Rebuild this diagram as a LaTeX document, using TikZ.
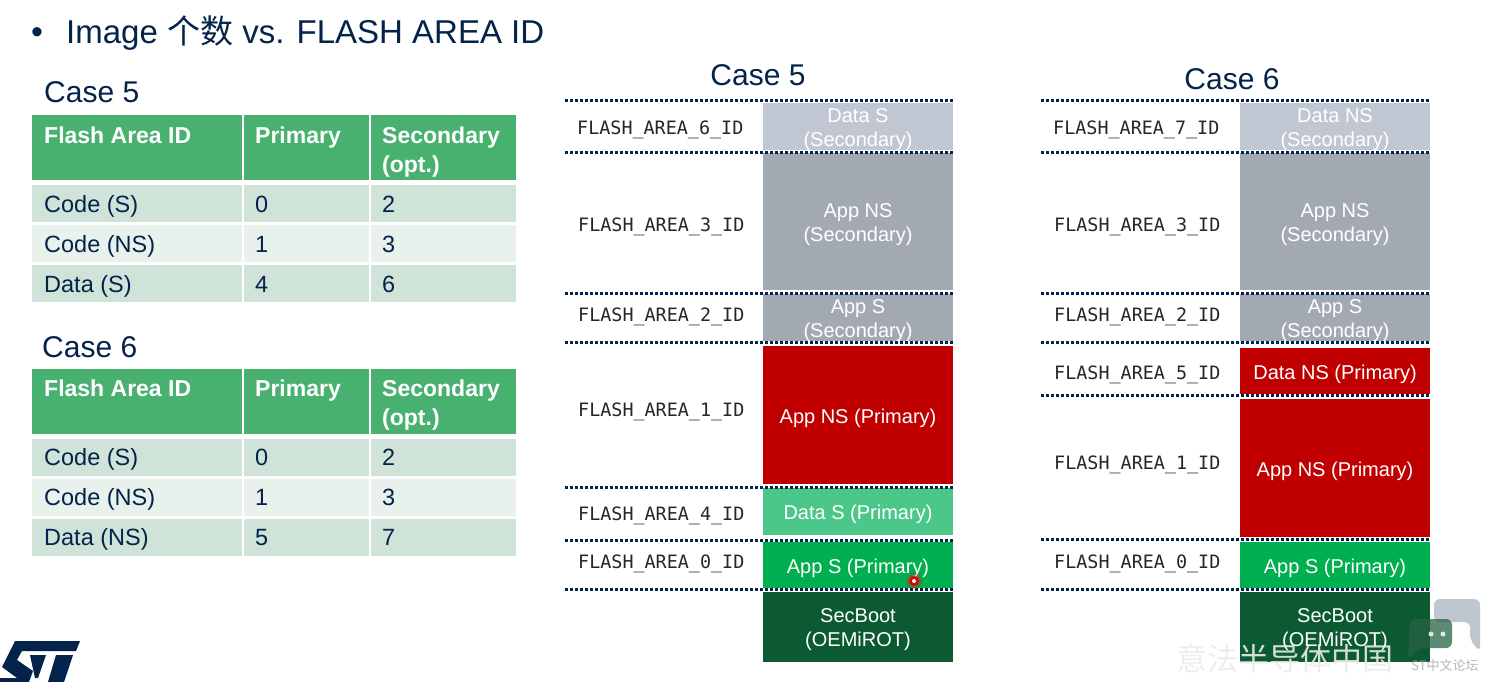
\documentclass[tikz,border=0pt]{standalone}
\usepackage{fontspec}
\setmainfont{Liberation Sans}
\setmonofont{DejaVu Sans Mono}
\newfontfamily\cjk{Noto Sans CJK SC}
\definecolor{navy}{HTML}{03234B}
\definecolor{headg}{HTML}{49B170}
\definecolor{rowa}{HTML}{CFE3D8}
\definecolor{rowb}{HTML}{E8F1EC}
\definecolor{secl}{HTML}{C0C7D2}
\definecolor{secd}{HTML}{A3A9B3}
\definecolor{pred}{HTML}{C00000}
\definecolor{datag}{HTML}{4CC78A}
\definecolor{appg}{HTML}{00AF50}
\definecolor{bootg}{HTML}{0B5A32}
\definecolor{bubble}{HTML}{A9B3BF}
\tikzset{
  cell/.style={inner sep=0pt,outer sep=0pt,anchor=north west},
  lab/.style={inner sep=0pt,anchor=base west,text=navy,font=\fontsize{23.5}{28}\selectfont},
  headlab/.style={inner sep=0pt,anchor=base west,text=white,align=left,font=\fontsize{23}{29}\selectfont\bfseries},
  casehead/.style={inner sep=0pt,text=navy,font=\fontsize{30}{34}\selectfont},
  blockbox/.style={inner sep=0pt,outer sep=0pt,anchor=north west},
  blocktxt/.style={inner sep=0pt,text=white,align=center,font=\fontsize{20}{24}\selectfont},
  idlab/.style={inner sep=0pt,anchor=west,text=black!85,font=\fontsize{18.4}{22}\selectfont\ttfamily},
  sepline/.style={draw=navy,line width=3pt,dash pattern=on 2.8pt off 2.2pt},
}
% \blk{name}{x}{y1}{y2}{colour}{text}
\newcommand\blk[6]{\pgfmathsetmacro\bh{(#4)-(#3)}%
  \node[blockbox,fill=#5,minimum width=190pt,minimum height=\bh pt] (#1) at (#2,#3) {};
  \node[blocktxt] (#1t) at ([yshift=-3pt]#1.center) {#6};}
% \sepl{name}{x}{y}
\newcommand\sepl[3]{\coordinate (#1a) at (#2,#3);\coordinate (#1b) at ({#2+388},#3);\draw[sepline] (#1a) -- (#1b);}
% \cel{name}{x1}{x2}{y1}{y2}{colour}
\newcommand\cel[6]{\pgfmathsetmacro\cw{(#3)-(#2)}\pgfmathsetmacro\ch{(#5)-(#4)}%
  \node[cell,fill=#6,minimum width=\cw pt,minimum height=\ch pt] (#1) at (#2,#4) {};}
% \tabl{prefix}{y0}{lastrow}{p}{s}{text offset}
\newcommand\tabl[6]{%
  \cel{#1h1}{32}{242}{#2}{#2+65}{headg}\cel{#1h2}{244}{369}{#2}{#2+65}{headg}\cel{#1h3}{371}{516}{#2}{#2+65}{headg}%
  \cel{#1a1}{32}{242}{#2+70}{#2+107}{rowa}\cel{#1a2}{244}{369}{#2+70}{#2+107}{rowa}\cel{#1a3}{371}{516}{#2+70}{#2+107}{rowa}%
  \cel{#1b1}{32}{242}{#2+110}{#2+147}{rowb}\cel{#1b2}{244}{369}{#2+110}{#2+147}{rowb}\cel{#1b3}{371}{516}{#2+110}{#2+147}{rowb}%
  \cel{#1c1}{32}{242}{#2+150}{#2+187}{rowa}\cel{#1c2}{244}{369}{#2+150}{#2+187}{rowa}\cel{#1c3}{371}{516}{#2+150}{#2+187}{rowa}%
  \node[headlab] (#1th1) at (44,#2+28+#6) {Flash Area ID};
  \node[headlab] (#1th2) at (255,#2+28+#6) {Primary};
  \node[headlab,anchor=north west] (#1th3) at (382,#2+12+#6) {Secondary\\(opt.)};
  \node[lab] (#1ta1) at (44,#2+97+#6) {Code (S)};
  \node[lab] (#1ta2) at (255,#2+97+#6) {0};
  \node[lab] (#1ta3) at (382,#2+97+#6) {2};
  \node[lab] (#1tb1) at (44,#2+137+#6) {Code (NS)};
  \node[lab] (#1tb2) at (255,#2+137+#6) {1};
  \node[lab] (#1tb3) at (382,#2+137+#6) {3};
  \node[lab] (#1tc1) at (44,#2+177+#6) {#3};
  \node[lab] (#1tc2) at (255,#2+177+#6) {#4};
  \node[lab] (#1tc3) at (382,#2+177+#6) {#5};
}
\begin{document}
\begin{tikzpicture}[x=1pt,y=-1pt]
\useasboundingbox (0,0) rectangle (1488,682);
\clip (0,0) rectangle (1488,682);
\fill[white] (0,0) rectangle (1488,682);

% title
\node[inner sep=0pt,text=navy,font=\fontsize{34}{38}\selectfont] (bullet) at (37,36) {•};
\node[inner sep=0pt,anchor=west,text=navy,font=\fontsize{33}{38}\selectfont] (title) at (66,33) {Image {\cjk 个数} vs. FLASH AREA ID};

% left tables
\node[casehead,anchor=west] (t5cap) at (44,92) {Case 5};
\tabl{p}{115}{Data (S)}{4}{6}{0}
\node[casehead,anchor=west] (t6cap) at (42,347) {Case 6};
\tabl{q}{369}{Data (NS)}{5}{7}{-1}

% Case 5 memory map
\node[casehead] (m5cap) at (758,75) {Case 5};
\blk{a1}{763}{103}{150}{secl}{Data S\\(Secondary)}
\blk{a2}{763}{153}{290}{secd}{App NS\\(Secondary)}
\blk{a3}{763}{294}{341}{secd}{App S\\(Secondary)}
\blk{a4}{763}{346}{484}{pred}{App NS (Primary)}
\blk{a5}{763}{488}{535}{datag}{Data S (Primary)}
\blk{a6}{763}{542}{588}{appg}{App S (Primary)}
\blk{a7}{763}{592}{662}{bootg}{SecBoot\\(OEMiROT)}
\sepl{la1}{565}{101}\sepl{la2}{565}{152}\sepl{la3}{565}{293}\sepl{la4}{565}{342}
\sepl{la5}{565}{487}\sepl{la6}{565}{540}\sepl{la7}{565}{589}
\node[idlab] (ia1) at (577,130) {FLASH\_AREA\_6\_ID};
\node[idlab] (ia2) at (578,227) {FLASH\_AREA\_3\_ID};
\node[idlab] (ia3) at (578,317) {FLASH\_AREA\_2\_ID};
\node[idlab] (ia4) at (578,412) {FLASH\_AREA\_1\_ID};
\node[idlab] (ia5) at (578,516) {FLASH\_AREA\_4\_ID};
\node[idlab] (ia6) at (578,564) {FLASH\_AREA\_0\_ID};

% Case 6 memory map
\node[casehead] (m6cap) at (1232,79) {Case 6};
\blk{b1}{1240}{103}{150}{secl}{Data NS\\(Secondary)}
\blk{b2}{1240}{153}{290}{secd}{App NS\\(Secondary)}
\blk{b3}{1240}{294}{341}{secd}{App S\\(Secondary)}
\blk{b4}{1240}{348}{394}{pred}{Data NS (Primary)}
\blk{b5}{1240}{399}{537}{pred}{App NS (Primary)}
\blk{b6}{1240}{542}{588}{appg}{App S (Primary)}
\blk{b7}{1240}{592}{662}{bootg}{SecBoot\\(OEMiROT)}
\sepl{lb1}{1041}{101}\sepl{lb2}{1041}{152}\sepl{lb3}{1041}{293}\sepl{lb4}{1041}{342}
\sepl{lb5}{1041}{395}\sepl{lb6}{1041}{539}\sepl{lb7}{1041}{589}
\node[idlab] (ib1) at (1053,130) {FLASH\_AREA\_7\_ID};
\node[idlab] (ib2) at (1054,227) {FLASH\_AREA\_3\_ID};
\node[idlab] (ib3) at (1054,317) {FLASH\_AREA\_2\_ID};
\node[idlab] (ib4) at (1054,375) {FLASH\_AREA\_5\_ID};
\node[idlab] (ib5) at (1054,465) {FLASH\_AREA\_1\_ID};
\node[idlab] (ib6) at (1054,564) {FLASH\_AREA\_0\_ID};

% pointer
\fill[red,opacity=.25] (914,581) circle (8);
\fill[red!90!black] (914,581) circle (5);
\fill[white] (914,581) circle (2);

% ST logo
\fill[navy] (15,641) -- (80,641) -- (76,651) -- (22,651) -- (17,660) -- (33,671) -- (29,682) -- (0,682) -- (0,678) -- (17,678) -- (2,667) -- cycle;
\fill[navy] (30,655) -- (46,655) -- (38,678) -- (35,678) -- cycle;
\fill[navy] (56,655) -- (73,655) -- (64,682) -- (48,682) -- cycle;

% watermark
\fill[bubble,opacity=.75,rounded corners=6pt] (1434,599) -- (1480,599) -- (1480,652) -- (1470,640) -- (1470,622) -- (1434,622) -- cycle;
\fill[bootg!75!gray,opacity=.75,rounded corners=6pt] (1410,619) -- (1452,619) -- (1452,648) -- (1418,648) -- (1408,660) -- cycle;
\fill[white,opacity=.8] (1431,634) circle (2.5) (1443,634) circle (2.5);
\node[inner sep=0pt,text=gray!15,opacity=.9,font=\fontsize{31}{34}\selectfont\cjk] (wm1) at (1285,659) {意法半导体中国};
\node[inner sep=0pt,text=gray!70,opacity=.8,font=\fontsize{13}{15}\selectfont\cjk] (wm2) at (1445,666) {ST中文论坛};
\end{tikzpicture}
\end{document}
